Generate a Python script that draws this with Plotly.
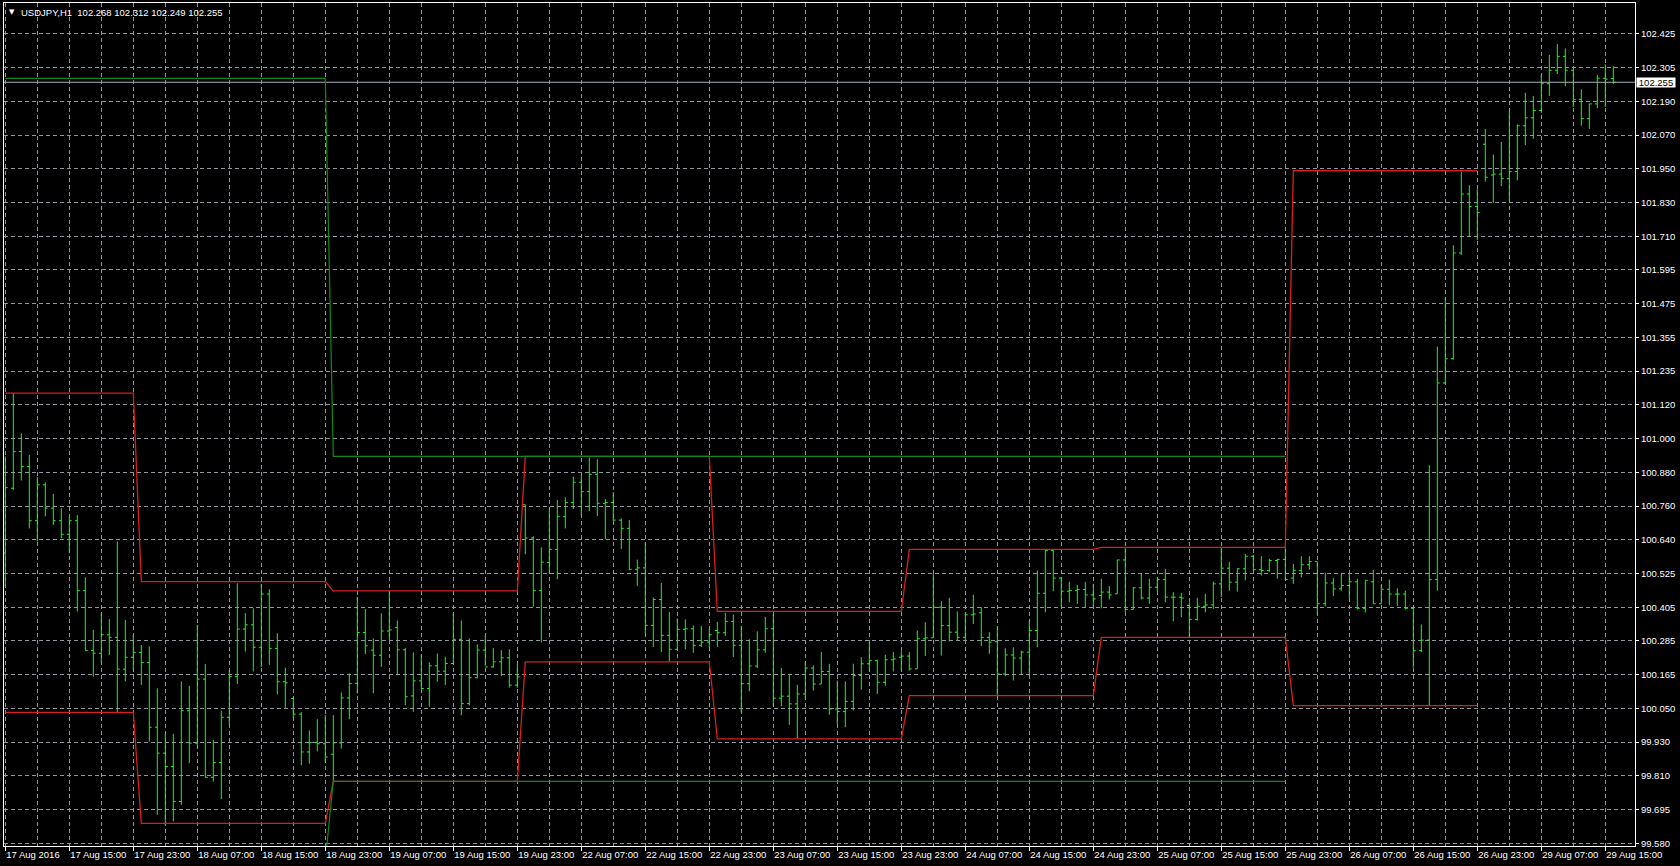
import plotly.graph_objects as go

# ---------------- data ----------------
opens = [100.600, 100.828, 100.957, 100.904, 100.714, 100.840, 100.758, 100.714, 100.666, 100.714,
         100.468, 100.258, 100.248, 100.313, 100.304, 100.192, 100.234, 100.251, 100.215, 99.988,
         99.897, 99.850, 99.727, 100.046, 99.932, 100.157, 99.812, 99.864, 100.023, 100.166,
         100.333, 100.348, 100.269, 100.456, 100.265, 100.148, 100.089, 100.034, 99.901, 99.934,
         99.930, 99.893, 99.933, 100.091, 100.142, 100.321, 100.259, 100.241, 100.326, 100.338,
         100.260, 100.098, 100.151, 100.124, 100.204, 100.185, 100.212, 100.297, 100.071, 100.162,
         100.259, 100.200, 100.218, 100.232, 100.136, 100.770, 100.653, 100.468, 100.567, 100.613,
         100.728, 100.778, 100.849, 100.816, 100.877, 100.775, 100.778, 100.716, 100.687, 100.543,
         100.548, 100.346, 100.437, 100.311, 100.262, 100.332, 100.334, 100.276, 100.287, 100.328,
         100.320, 100.360, 100.276, 100.141, 100.203, 100.260, 100.334, 100.090, 100.097, 100.070,
         100.105, 100.196, 100.140, 100.184, 100.052, 100.043, 100.079, 100.170, 100.211, 100.222,
         100.146, 100.225, 100.234, 100.238, 100.193, 100.299, 100.302, 100.410, 100.345, 100.322,
         100.304, 100.383, 100.390, 100.304, 100.289, 100.175, 100.242, 100.231, 100.252, 100.328,
         100.459, 100.609, 100.512, 100.466, 100.469, 100.472, 100.453, 100.451, 100.463, 100.457,
         100.576, 100.402, 100.478, 100.442, 100.480, 100.507, 100.445, 100.445, 100.416, 100.367,
         100.413, 100.418, 100.492, 100.547, 100.498, 100.545, 100.589, 100.542, 100.539, 100.574,
         100.578, 100.512, 100.539, 100.559, 100.570, 100.422, 100.495, 100.474, 100.486, 100.499,
         100.406, 100.499, 100.422, 100.473, 100.456, 100.456, 100.406, 100.257, 100.294, 100.507,
         101.198, 101.283, 101.655, 101.862, 101.818, 102.037, 101.929, 101.932, 101.916, 101.941,
         102.102, 102.130, 102.156, 102.250, 102.297, 102.346, 102.297, 102.195, 102.127, 102.179,
         102.269, 102.268]
highs = [100.940, 101.162, 101.021, 100.945, 100.867, 100.849, 100.808, 100.758, 100.725, 100.734,
         100.515, 100.330, 100.389, 100.368, 100.641, 100.365, 100.313, 100.277, 100.272, 100.125,
         99.965, 99.965, 100.149, 100.133, 100.348, 100.210, 99.944, 100.046, 100.190, 100.494,
         100.389, 100.406, 100.492, 100.473, 100.318, 100.197, 100.095, 100.042, 99.977, 100.016,
         100.030, 100.030, 100.110, 100.177, 100.447, 100.403, 100.300, 100.388, 100.467, 100.363,
         100.267, 100.251, 100.244, 100.216, 100.247, 100.236, 100.388, 100.363, 100.300, 100.279,
         100.310, 100.267, 100.259, 100.262, 100.209, 100.770, 100.659, 100.620, 100.760, 100.787,
         100.796, 100.869, 100.872, 100.936, 100.930, 100.790, 100.814, 100.722, 100.716, 100.577,
         100.637, 100.444, 100.495, 100.393, 100.370, 100.367, 100.346, 100.344, 100.334, 100.358,
         100.390, 100.384, 100.344, 100.297, 100.325, 100.376, 100.387, 100.196, 100.176, 100.137,
         100.217, 100.205, 100.252, 100.211, 100.152, 100.149, 100.211, 100.234, 100.287, 100.225,
         100.243, 100.252, 100.255, 100.252, 100.328, 100.357, 100.531, 100.431, 100.442, 100.395,
         100.386, 100.454, 100.410, 100.322, 100.343, 100.266, 100.269, 100.257, 100.363, 100.539,
         100.611, 100.609, 100.515, 100.500, 100.488, 100.498, 100.492, 100.510, 100.484, 100.576,
         100.617, 100.480, 100.527, 100.510, 100.515, 100.545, 100.463, 100.460, 100.427, 100.442,
         100.457, 100.500, 100.621, 100.570, 100.547, 100.597, 100.594, 100.589, 100.580, 100.580,
         100.617, 100.562, 100.589, 100.589, 100.570, 100.531, 100.512, 100.527, 100.527, 100.510,
         100.504, 100.541, 100.488, 100.507, 100.476, 100.468, 100.411, 100.349, 100.909, 101.326,
         101.501, 101.682, 101.941, 101.893, 101.879, 102.091, 102.001, 102.045, 102.153, 102.107,
         102.218, 102.207, 102.281, 102.351, 102.389, 102.374, 102.300, 102.230, 102.179, 102.281,
         102.318, 102.312]
lows = [100.482, 100.822, 100.855, 100.687, 100.641, 100.729, 100.699, 100.652, 100.600, 100.395,
        100.258, 100.166, 100.213, 100.242, 100.040, 100.149, 100.190, 100.137, 99.938, 99.680,
        99.645, 99.657, 99.715, 99.862, 99.926, 99.812, 99.797, 99.735, 99.996, 100.140,
        100.254, 100.184, 100.199, 100.207, 100.103, 100.056, 100.021, 99.854, 99.860, 99.903,
        99.863, 99.795, 99.913, 100.016, 100.107, 100.245, 100.107, 100.200, 100.294, 100.171,
        100.065, 100.042, 100.122, 100.060, 100.148, 100.136, 100.212, 100.030, 100.065, 100.160,
        100.204, 100.197, 100.168, 100.127, 100.127, 100.596, 100.412, 100.286, 100.528, 100.508,
        100.687, 100.755, 100.730, 100.748, 100.730, 100.648, 100.713, 100.614, 100.540, 100.485,
        100.317, 100.270, 100.252, 100.219, 100.258, 100.262, 100.250, 100.270, 100.266, 100.270,
        100.309, 100.235, 100.041, 100.114, 100.196, 100.250, 100.064, 100.062, 99.996, 99.949,
        100.085, 100.117, 100.140, 100.032, 99.999, 99.988, 100.047, 100.120, 100.184, 100.105,
        100.134, 100.184, 100.187, 100.187, 100.193, 100.238, 100.302, 100.240, 100.289, 100.293,
        100.293, 100.351, 100.273, 100.246, 100.099, 100.167, 100.152, 100.172, 100.172, 100.269,
        100.392, 100.466, 100.410, 100.427, 100.422, 100.410, 100.413, 100.406, 100.437, 100.457,
        100.392, 100.402, 100.437, 100.422, 100.465, 100.427, 100.360, 100.375, 100.304, 100.363,
        100.392, 100.404, 100.445, 100.468, 100.465, 100.504, 100.539, 100.521, 100.535, 100.510,
        100.504, 100.492, 100.515, 100.542, 100.383, 100.413, 100.449, 100.468, 100.442, 100.402,
        100.391, 100.422, 100.422, 100.417, 100.414, 100.402, 100.198, 100.252, 100.063, 100.468,
        101.195, 101.280, 101.648, 101.712, 101.700, 101.906, 101.831, 101.890, 101.836, 101.910,
        102.034, 102.056, 102.148, 102.207, 102.284, 102.241, 102.168, 102.102, 102.091, 102.164,
        102.168, 102.249]
closes = [100.830, 100.957, 100.904, 100.714, 100.840, 100.758, 100.714, 100.666, 100.714, 100.468,
          100.258, 100.248, 100.313, 100.304, 100.192, 100.234, 100.251, 100.215, 99.988, 99.897,
          99.850, 99.727, 100.046, 99.932, 100.157, 99.812, 99.864, 100.023, 100.166, 100.333,
          100.348, 100.269, 100.456, 100.265, 100.148, 100.144, 100.034, 99.901, 99.934, 99.930,
          99.883, 99.933, 100.091, 100.142, 100.321, 100.274, 100.241, 100.326, 100.330, 100.260,
          100.095, 100.151, 100.124, 100.204, 100.185, 100.212, 100.297, 100.071, 100.162, 100.259,
          100.200, 100.218, 100.232, 100.136, 100.165, 100.653, 100.468, 100.568, 100.613, 100.728,
          100.778, 100.849, 100.816, 100.877, 100.775, 100.778, 100.716, 100.687, 100.543, 100.548,
          100.346, 100.437, 100.311, 100.262, 100.332, 100.334, 100.276, 100.287, 100.313, 100.320,
          100.360, 100.276, 100.141, 100.203, 100.260, 100.334, 100.090, 100.097, 100.070, 100.105,
          100.196, 100.140, 100.184, 100.052, 100.043, 100.079, 100.170, 100.211, 100.222, 100.146,
          100.225, 100.228, 100.238, 100.193, 100.299, 100.302, 100.410, 100.345, 100.322, 100.304,
          100.383, 100.386, 100.304, 100.287, 100.175, 100.242, 100.231, 100.252, 100.328, 100.459,
          100.609, 100.512, 100.466, 100.469, 100.472, 100.453, 100.439, 100.463, 100.453, 100.576,
          100.402, 100.478, 100.442, 100.480, 100.507, 100.445, 100.445, 100.442, 100.367, 100.413,
          100.418, 100.492, 100.547, 100.498, 100.545, 100.589, 100.542, 100.539, 100.574, 100.578,
          100.507, 100.539, 100.559, 100.570, 100.422, 100.495, 100.474, 100.486, 100.499, 100.406,
          100.504, 100.422, 100.473, 100.456, 100.456, 100.406, 100.257, 100.294, 100.507, 101.198,
          101.283, 101.655, 101.862, 101.818, 101.797, 101.921, 101.932, 101.916, 101.941, 102.102,
          102.130, 102.156, 102.250, 102.297, 102.346, 102.297, 102.195, 102.127, 102.179, 102.269,
          102.266, 102.255]

x_tick_labels = ["17 Aug 2016", "17 Aug 15:00", "17 Aug 23:00", "18 Aug 07:00", "18 Aug 15:00",
                 "18 Aug 23:00", "19 Aug 07:00", "19 Aug 15:00", "19 Aug 23:00", "22 Aug 07:00",
                 "22 Aug 15:00", "22 Aug 23:00", "23 Aug 07:00", "23 Aug 15:00", "23 Aug 23:00",
                 "24 Aug 07:00", "24 Aug 15:00", "24 Aug 23:00", "25 Aug 07:00", "25 Aug 15:00",
                 "25 Aug 23:00", "26 Aug 07:00", "26 Aug 15:00", "26 Aug 23:00", "29 Aug 07:00",
                 "29 Aug 15:00"]
x_tick_bars = [0, 8, 16, 24, 32, 40, 48, 56, 64, 72, 80, 88, 96, 104, 112, 120, 128, 136,
               144, 152, 160, 168, 176, 184, 192, 200]
x_grid_bars = [4, 12, 20, 28, 36, 44, 52, 60, 68, 76, 84, 92, 100, 108, 116, 124, 132, 140,
               148, 156, 164, 172, 180, 188, 196]

y_tick_labels = ["99.580", "99.695", "99.810", "99.930", "100.050", "100.165", "100.285",
                 "100.405", "100.525", "100.640", "100.760", "100.880", "101.000", "101.120",
                 "101.235", "101.355", "101.475", "101.595", "101.710", "101.830", "101.950",
                 "102.070", "102.190", "102.305", "102.425"]

# indicator levels (step lines, one level per session)
day_start_bars = [0, 17, 41, 65, 89, 113, 137, 161]
day_last_bar = 184
red_upper_levels = [101.162, 100.500, 100.467, 100.940, 100.395, 100.613, 100.620, 101.944]
red_lower_levels = [100.040, 99.650, 99.798, 100.218, 99.947, 100.099, 100.304, 100.064]

week_start_bars = [0, 41]
week_last_bar = 160
green_upper_levels = [102.269, 100.940]
green_lower_levels = [99.520, 99.798]

symbol = "USDJPY,H1"
bid_price = 102.255

# ---------------- build ----------------
n = len(opens)
bars = list(range(n))


def step_series(starts, levels, last):
    out = [None] * n
    for k, s in enumerate(starts):
        e = starts[k + 1] - 1 if k + 1 < len(starts) else last
        for i in range(s, e + 1):
            out[i] = levels[k]
    return out


red_upper = step_series(day_start_bars, red_upper_levels, day_last_bar)
red_lower = step_series(day_start_bars, red_lower_levels, day_last_bar)
green_upper = step_series(week_start_bars, green_upper_levels, week_last_bar)
green_lower = step_series(week_start_bars, green_lower_levels, week_last_bar)

GRID = "#8f969f"
BAR = "#26f026"
RED = "#d81e1e"
GREEN = "#14861a"
FONT = "Liberation Sans, Arial, sans-serif"
FS = 9.5

# y ticks equally spaced in pixels between the first and last label
y0 = float(y_tick_labels[0])
y1 = float(y_tick_labels[-1])
step = (y1 - y0) / (len(y_tick_labels) - 1)
y_tick_vals = [y0 + k * step for k in range(len(y_tick_labels))]

fig = go.Figure()

fig.add_trace(go.Ohlc(
    x=bars, open=opens, high=highs, low=lows, close=closes,
    increasing=dict(line=dict(color=BAR, width=1)),
    decreasing=dict(line=dict(color=BAR, width=1)),
    tickwidth=0.3, hoverinfo="skip", showlegend=False,
))

for series in (red_upper, red_lower):
    fig.add_trace(go.Scatter(x=bars, y=series, mode="lines",
                             line=dict(color=RED, width=1.3),
                             connectgaps=False, hoverinfo="skip", showlegend=False))
for series in (green_upper, green_lower):
    fig.add_trace(go.Scatter(x=bars, y=series, mode="lines",
                             line=dict(color=GREEN, width=1.2),
                             connectgaps=False, hoverinfo="skip", showlegend=False))

# bid line
fig.add_shape(type="line", xref="paper", x0=0, x1=1, yref="y", y0=bid_price, y1=bid_price,
              line=dict(color="#a7b1bb", width=1), layer="below")

fig.update_layout(
    width=1680, height=866,
    margin=dict(l=4, r=45, t=3, b=20, autoexpand=False),
    paper_bgcolor="black", plot_bgcolor="black",
    showlegend=False,
    font=dict(family=FONT, size=FS, color="white"),
    xaxis=dict(
        range=[-0.1625, 203.71], tickmode="array", tickvals=x_tick_bars, ticktext=x_tick_labels,
        ticks="outside", ticklen=4, tickcolor="white", tickwidth=1, tickangle=0,
        ticklabelposition="outside right", automargin=False,
        tickfont=dict(family=FONT, size=FS, color="white"),
        showgrid=True, gridcolor=GRID, griddash="4px,3px", gridwidth=1,
        minor=dict(tickmode="array", tickvals=x_grid_bars, showgrid=True, gridcolor=GRID,
                   griddash="4px,3px", gridwidth=1, ticks=""),
        showline=True, linecolor="white", linewidth=1, mirror=True, zeroline=False,
        rangeslider=dict(visible=False), fixedrange=True,
    ),
    yaxis=dict(
        side="right", range=[99.5705, 102.5336], tickmode="array",
        tickvals=y_tick_vals, ticktext=y_tick_labels, automargin=False,
        ticks="outside", ticklen=3, tickcolor="white", tickwidth=1,
        tickfont=dict(family=FONT, size=FS, color="white"),
        showgrid=True, gridcolor=GRID, griddash="4px,3px", gridwidth=1,
        showline=True, linecolor="white", linewidth=1, mirror=True, zeroline=False,
        fixedrange=True,
    ),
)

# header text
fig.add_annotation(xref="paper", yref="paper", x=0, y=1, xanchor="left", yanchor="top",
                   xshift=3, yshift=-3, showarrow=False, text="\u25bc",
                   font=dict(family="DejaVu Sans", size=7, color="white"))
header = f"{symbol}\u00a0\u00a0{opens[-1]:.3f} {highs[-1]:.3f} {lows[-1]:.3f} {closes[-1]:.3f}"
fig.add_annotation(xref="paper", yref="paper", x=0, y=1, xanchor="left", yanchor="top",
                   xshift=15, yshift=-2, showarrow=False, text=header,
                   font=dict(family=FONT, size=FS, color="white"))

# bid label on price scale
fig.add_annotation(xref="paper", yref="y", x=1, y=bid_price, xanchor="left", yanchor="middle",
                   xshift=1, showarrow=False, text=f"{bid_price:.3f}", bgcolor="white",
                   width=38, height=9, borderpad=0, align="center",
                   font=dict(family=FONT, size=FS, color="black"))

fig.write_html(
    "out.html",
    config={"displayModeBar": False},
    post_script="document.body.style.margin='0';document.body.style.background='black';"
                "document.body.style.overflow='hidden';",
)
